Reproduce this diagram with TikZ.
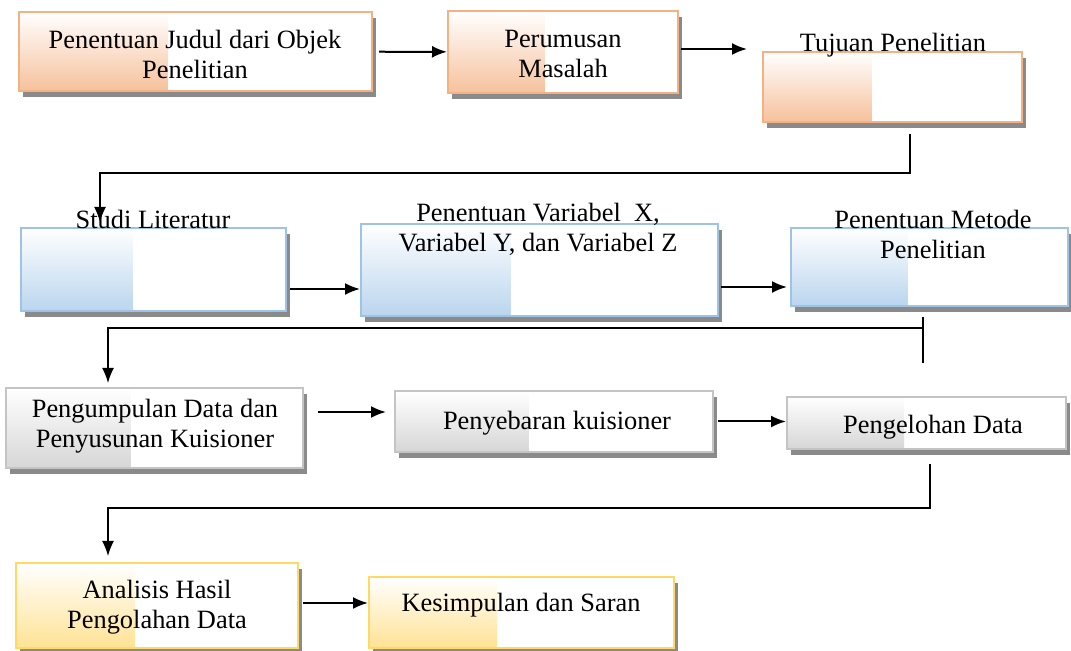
\documentclass[tikz,border=0pt]{standalone}
\usepackage{fontspec}
\setmainfont{Liberation Serif}
\usetikzlibrary{arrows.meta,calc,shadows}

\definecolor{orangeline}{HTML}{F4B183}
\definecolor{orangefill}{HTML}{F6C19C}
\definecolor{blueline}{HTML}{9DC3E6}
\definecolor{bluefill}{HTML}{BAD5EE}
\definecolor{grayline}{HTML}{C4C4C4}
\definecolor{grayfill}{HTML}{D6D6D6}
\definecolor{yellowline}{HTML}{FFD966}
\definecolor{yellowfill}{HTML}{FFE294}
\definecolor{shadowgray}{HTML}{8A8A8A}

\tikzset{
    flowbox/.style 2 args={draw=#1, line width=1pt, fill=white, inner sep=0pt,
        drop shadow={shadow xshift=2pt, shadow yshift=-3pt, fill=shadowgray, opacity=1},
        path picture={\shade[top color=white, bottom color=#2]
            (path picture bounding box.north west) rectangle
            ($(path picture bounding box.south west)!0.42!(path picture bounding box.south east)$);}},
    teks/.style={font=\fontsize{13.2}{15}\selectfont, align=center, inner sep=0pt},
    flowarrow/.style={line width=1pt, -{Latex[length=7.5pt,width=6pt]}},
    flowline/.style={line width=0.7pt}
}

\begin{document}
\begin{tikzpicture}[x=0.5pt, y=-0.5pt]
    \useasboundingbox (0,0) rectangle (1071,651);
    % First row: orange boxes.
        \node[flowbox={orangeline}{orangefill}, minimum width=176.5pt, minimum height=39.5pt] (judul) at (195.5,51.5) {};
        \node[flowbox={orangeline}{orangefill}, minimum width=115pt, minimum height=41pt] (rumusan) at (563,52) {};
        \node[flowbox={orangeline}{orangefill}, minimum width=129.5pt, minimum height=35pt] (tujuan) at (892.5,87) {};
    % Second row: blue boxes.
        \node[flowbox={blueline}{bluefill}, minimum width=132.5pt, minimum height=41.5pt] (studi) at (153.5,269.5) {};
        \node[flowbox={blueline}{bluefill}, minimum width=178.5pt, minimum height=46pt] (variabel) at (539.5,270) {};
        \node[flowbox={blueline}{bluefill}, minimum width=138.5pt, minimum height=39pt] (metode) at (929.5,267) {};
    % Third row: gray boxes.
        \node[flowbox={grayline}{grayfill}, minimum width=148.5pt, minimum height=40pt] (kumpul) at (154.5,428) {};
        \node[flowbox={grayline}{grayfill}, minimum width=159pt, minimum height=30.5pt] (sebar) at (554,421.5) {};
        \node[flowbox={grayline}{grayfill}, minimum width=139.5pt, minimum height=26pt] (olah) at (926.5,423) {};
    % Fourth row: yellow boxes.
        \node[flowbox={yellowline}{yellowfill}, minimum width=141pt, minimum height=42.5pt] (analisis) at (157,605.5) {};
        \node[flowbox={yellowline}{yellowfill}, minimum width=152.5pt, minimum height=35.5pt] (simpulan) at (521.5,612.5) {};
    % Below nodes are the texts.
        \node[teks] (tJudul) at (195,54) {Penentuan Judul dari Objek\\Penelitian};
        \node[teks] (tRumusan) at (563,54) {Perumusan\\Masalah};
        \node[teks] (tTujuan) at (893,45) {Tujuan Penelitian};
        \node[teks] (tStudi) at (153,219) {Studi Literatur};
        \node[teks] (tVariabel) at (538,229) {Penentuan Variabel~ X,\\Variabel Y, dan Variabel Z};
        \node[teks] (tMetode) at (933,234) {Penentuan Metode\\Penelitian};
        \node[teks] (tKumpul) at (155,426) {Pengumpulan Data dan\\Penyusunan Kuisioner};
        \node[teks] (tSebar) at (557,423) {Penyebaran kuisioner};
        \node[teks] (tOlah) at (933,427) {Pengelohan Data};
        \node[teks] (tAnalisis) at (157,607) {Analisis Hasil\\Pengolahan Data};
        \node[teks] (tSimpulan) at (521,605) {Kesimpulan dan Saran};
    % Arrows in each row.
        \draw[flowarrow, shorten <=3pt] (judul) -- (rumusan);
        \draw[flowarrow] ([shift={(2,-3)}]rumusan.east) -- ([shift={(-15,-3)}]rumusan.east -| tujuan.west);
        \draw[flowarrow] ([shift={(3,19.5)}]studi.east) -- ([yshift=-9.75pt]studi.east -| variabel.west);
        \draw[flowarrow] ([shift={(2,17)}]variabel.east) -- ([shift={(-3,17)}]variabel.east -| metode.west);
        \draw[flowarrow] ([shift={(14,-16)}]kumpul.east) -- ([shift={(-8,-16)}]kumpul.east -| sebar.west);
        \draw[flowarrow] ([xshift=2pt]sebar.east) -- (sebar.east -| olah.west);
        \draw[flowarrow] ([shift={(4,-2.5)}]analisis.east) -- ([shift={(0,-2.5)}]analisis.east -| simpulan.west);
    % These draw the turns down to the next row.
        \draw[flowarrow, line width=0.7pt] ([shift={(17.5,11)}]tujuan.south) -- ++(0,39) -| ([shift={(-53.5,-5)}]studi.north);
        \draw[flowline] ([shift={(-6.5,10)}]metode.south) -- ++(0,46);
        \draw[flowarrow, line width=0.7pt] ([shift={(-6.5,21)}]metode.south) -| ([shift={(-46.5,-4)}]kumpul.north);
        \draw[flowarrow, line width=0.7pt] ([shift={(3.5,14)}]olah.south) -- ++(0,44) -| ([shift={(-49,-6)}]analisis.north);
\end{tikzpicture}
\end{document}
